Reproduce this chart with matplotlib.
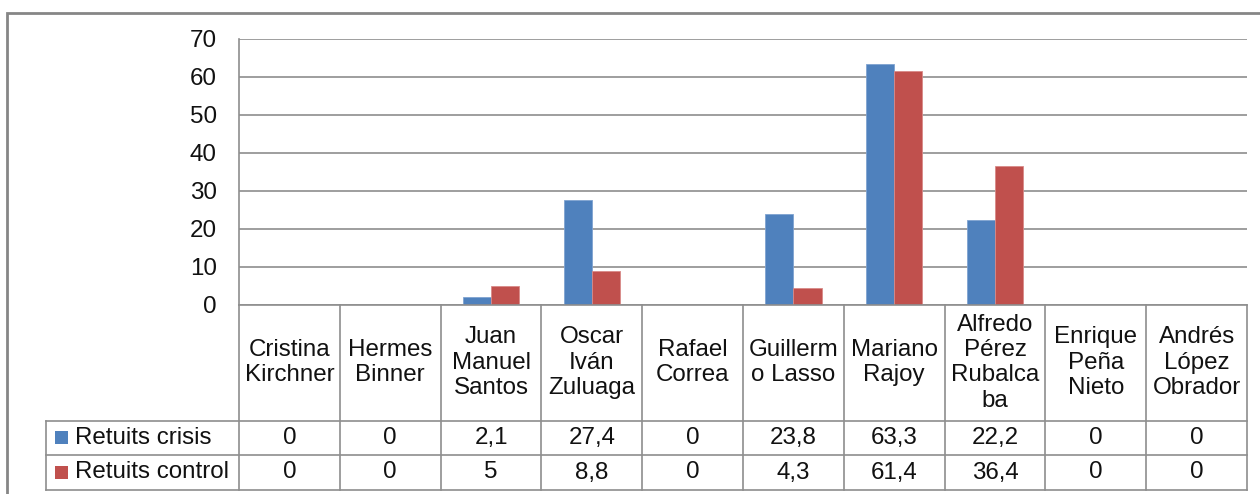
import matplotlib
matplotlib.use("Agg")
import matplotlib.pyplot as plt
from matplotlib.transforms import blended_transform_factory
from matplotlib.patches import Rectangle
from matplotlib.lines import Line2D

categories = ["Cristina\nKirchner", "Hermes\nBinner", "Juan\nManuel\nSantos",
              "Oscar\nIván\nZuluaga", "Rafael\nCorrea", "Guillerm\no Lasso",
              "Mariano\nRajoy", "Alfredo\nPérez\nRubalca\nba", "Enrique\nPeña\nNieto",
              "Andrés\nLópez\nObrador"]
series_names = ["Retuits crisis", "Retuits control"]
crisis = [0, 0, 2.1, 27.4, 0, 23.8, 63.3, 22.2, 0, 0]
control = [0, 0, 5, 8.8, 0, 4.3, 61.4, 36.4, 0, 0]
yticks = [0, 10, 20, 30, 40, 50, 60, 70]

colors = ["#4F81BD", "#C0504D"]
W, H = 1260, 494
FS = 17.4
plt.rcParams['font.family'] = ['Liberation Sans', 'DejaVu Sans']
fig = plt.figure(figsize=(W / 100, H / 100), dpi=100)

def fy(py):
    return 1 - py / H

def fx(px):
    return px / W

ax_l, ax_r, ax_t, ax_b = 239, 1247, 38.5, 304.5
ax = fig.add_axes([fx(ax_l), fy(ax_b), fx(ax_r) - fx(ax_l), fy(ax_t) - fy(ax_b)])
n = len(categories)
ax.set_xlim(0, n)
ax.set_ylim(0, 70)
gcol = "#8E8E8E"
bw = 0.28
xs = [i + 0.5 for i in range(n)]
ax.bar([x - bw / 2 for x in xs], crisis, width=bw, color=colors[0], edgecolor="#7FA3D1", linewidth=0.6, zorder=3)
ax.bar([x + bw / 2 for x in xs], control, width=bw, color=colors[1], edgecolor="#D88A88", linewidth=0.6, zorder=3)
ax.set_yticks(yticks)
ax.set_yticklabels([str(t) for t in yticks], fontsize=FS, color="#111111")
ax.tick_params(axis='y', length=0, pad=16)
ax.set_xticks([])
ax.grid(axis='y', color=gcol, linewidth=1.2, zorder=0)
for s in ["top", "right", "bottom"]:
    ax.spines[s].set_visible(False)
ax.spines["left"].set_color(gcol)
ax.spines["left"].set_linewidth(1.2)

# table
tr = blended_transform_factory(ax.transData, fig.transFigure)
y_head_top, y_head_bot, y_r1, y_r2 = 304.5, 420.7, 455.0, 490.0
lkw = dict(color=gcol, linewidth=1.2)
for i in range(n + 1):
    fig.add_artist(Line2D([i, i], [fy(y_head_top), fy(y_r2)], transform=tr, **lkw))
fig.add_artist(Line2D([0, n], [fy(y_head_top)] * 2, transform=tr, **lkw))
for yy in [y_head_bot, y_r1, y_r2]:
    fig.add_artist(Line2D([fx(46), fx(ax_r)], [fy(yy)] * 2, transform=fig.transFigure, **lkw))
fig.add_artist(Line2D([fx(46), fx(46)], [fy(y_head_bot), fy(y_r2)], transform=fig.transFigure, **lkw))

tcol = "#111111"
for i, c in enumerate(categories):
    fig.text(i + 0.5, fy((y_head_top + y_head_bot) / 2), c, transform=tr, ha="center", va="center",
             fontsize=FS, color=tcol, linespacing=1.2)

def fmt(v):
    return f"{v:g}".replace(".", ",")

rows = [crisis, control]
row_centers = [(y_head_bot + y_r1) / 2, (y_r1 + y_r2) / 2]
for r, (vals, yc) in enumerate(zip(rows, row_centers)):
    for i, v in enumerate(vals):
        fig.text(i + 0.5, fy(yc), fmt(v), transform=tr, ha="center", va="center", fontsize=FS, color=tcol)
    fig.add_artist(Rectangle((fx(55), fy(yc + 6.5)), fx(13), 13 / H, transform=fig.transFigure,
                             facecolor=colors[r], edgecolor="none"))
    fig.text(fx(75), fy(yc), series_names[r], ha="left", va="center", fontsize=FS, color=tcol)

# outer frame
fig.add_artist(Rectangle((fx(7), fy(505)), fx(1265 - 7), (505 - 13) / H, transform=fig.transFigure,
                         facecolor="none", edgecolor="#868686", linewidth=2.0, clip_on=False))

fig.savefig("out.png", dpi=100)
